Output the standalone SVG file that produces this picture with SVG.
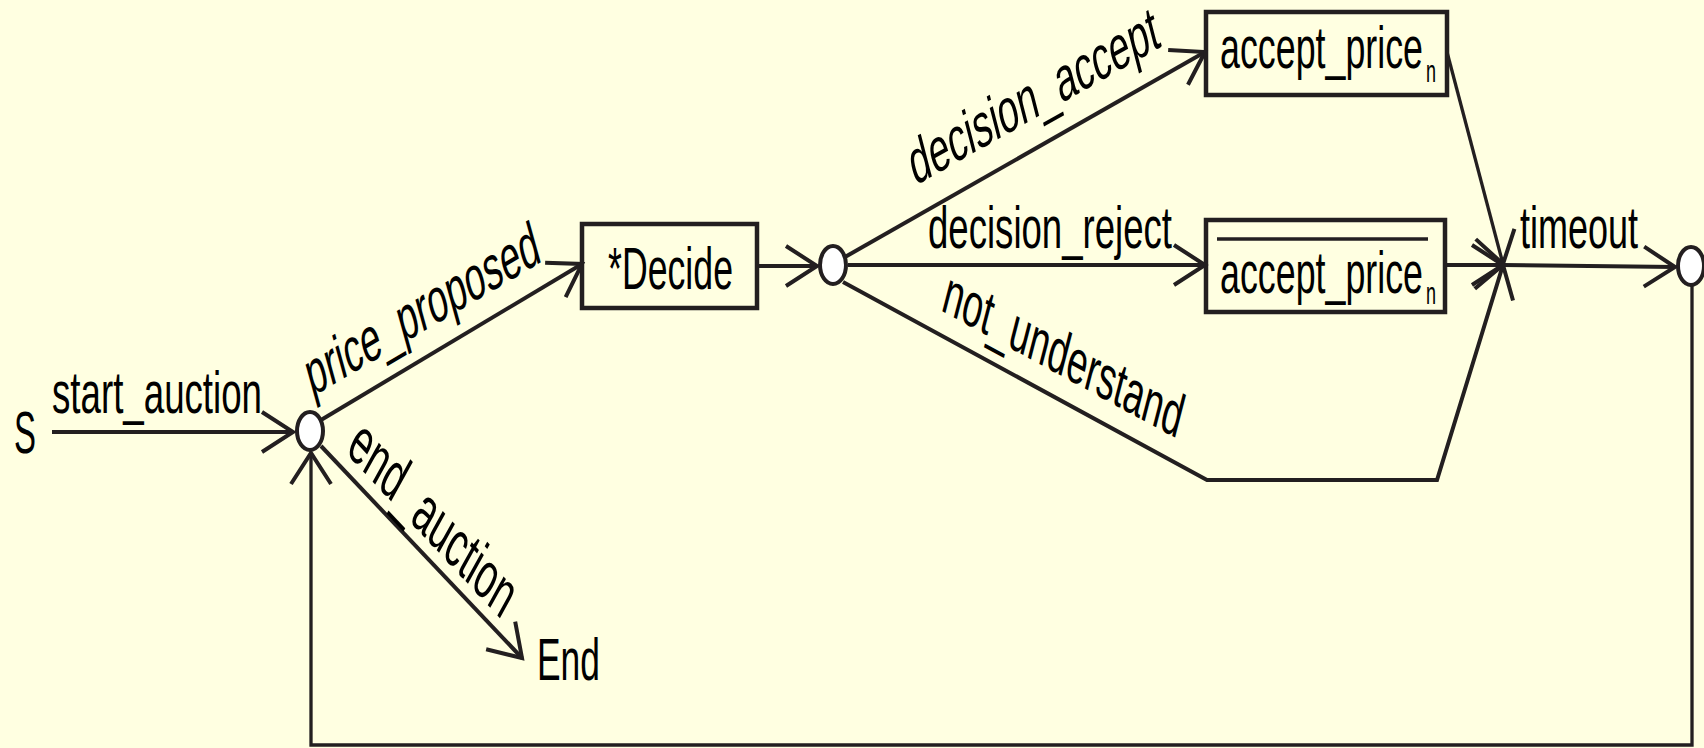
<svg xmlns="http://www.w3.org/2000/svg" width="1704" height="748" viewBox="0 0 1704 748">
<defs>
<style>
.t{font-family:"Liberation Sans",Arial,sans-serif;font-size:59px;fill:#000}
.sub{font-family:"Liberation Sans",Arial,sans-serif;font-size:31px;fill:#000}
.ln{fill:none;stroke:#231f20;stroke-width:4;stroke-linejoin:miter}
.thin{fill:none;stroke:#231f20;stroke-width:3.3}
.box{fill:none;stroke:#231f20;stroke-width:4.5}
.st{fill:#fff;stroke:#231f20;stroke-width:4}
</style>
<marker id="arr" markerUnits="userSpaceOnUse" markerWidth="60" markerHeight="60" viewBox="-40 -30 50 60" refX="0" refY="0" orient="auto" overflow="visible">
<path d="M-31,-20 L0,0 L-31,20" fill="none" stroke="#231f20" stroke-width="4"/>
</marker>
</defs>
<rect x="0" y="0" width="1704" height="748" fill="#ffffe1"/>
<g id="connectors">
<line class="ln" x1="52" y1="432" x2="293" y2="432" marker-end="url(#arr)"/>
<line class="ln" x1="321" y1="420" x2="582" y2="264" marker-end="url(#arr)"/>
<line class="ln" x1="321" y1="446" x2="522" y2="658" marker-end="url(#arr)"/>
<line class="ln" x1="757" y1="266" x2="817" y2="266" marker-end="url(#arr)"/>
<line class="ln" x1="845" y1="257" x2="1205" y2="52" marker-end="url(#arr)"/>
<line class="ln" x1="848" y1="265" x2="1205" y2="265" marker-end="url(#arr)"/>
<polyline class="ln" points="843,282 1207,480 1437,480 1503,265" marker-end="url(#arr)"/>
<line class="thin" x1="1447" y1="52" x2="1503" y2="264" marker-end="url(#arr)"/>
<line class="ln" x1="1445" y1="265" x2="1503" y2="265" marker-end="url(#arr)"/>
<line class="ln" x1="1503" y1="265" x2="1675" y2="267" marker-end="url(#arr)"/>
<polyline class="thin" points="1692,285 1692,745 311,745 311,453" marker-end="url(#arr)"/>
</g>
<g id="labels">
<text class="t" x="52" y="413" textLength="210" lengthAdjust="spacingAndGlyphs">start_auction</text>
<text class="t" transform="translate(312,397) rotate(-30.5) skewX(-15)" textLength="268" lengthAdjust="spacingAndGlyphs">price_proposed</text>
<text class="t" transform="translate(345,452) rotate(47) skewX(18)" textLength="230" lengthAdjust="spacingAndGlyphs">end_auction</text>
<text class="t" transform="translate(915,186) rotate(-29.5) skewX(-15)" textLength="284" lengthAdjust="spacingAndGlyphs">decision_accept</text>
<text class="t" x="928" y="248" textLength="244" lengthAdjust="spacingAndGlyphs">decision_reject</text>
<text class="t" transform="translate(940,310) rotate(28.5) skewX(14)" textLength="270" lengthAdjust="spacingAndGlyphs">not_understand</text>
<text class="t" x="1520" y="248" textLength="118" lengthAdjust="spacingAndGlyphs">timeout</text>
</g>
<g id="S"><text class="t" x="14" y="453" textLength="22" lengthAdjust="spacingAndGlyphs">S</text></g>
<g id="s1"><ellipse class="st" cx="310" cy="431" rx="13" ry="19"/></g>
<g id="decide"><rect class="box" x="582" y="224" width="175" height="84"/><text class="t" x="608" y="289" textLength="125" lengthAdjust="spacingAndGlyphs">*Decide</text></g>
<g id="s2"><ellipse class="st" cx="833" cy="265" rx="13" ry="19"/></g>
<g id="accept"><rect class="box" x="1206" y="12" width="241" height="83"/><text class="t" x="1220" y="68" textLength="203" lengthAdjust="spacingAndGlyphs">accept_price</text><text class="sub" x="1426" y="82" textLength="10" lengthAdjust="spacingAndGlyphs">n</text></g>
<g id="reject"><rect class="box" x="1206" y="220" width="239" height="92"/><line class="thin" x1="1217" y1="239" x2="1428" y2="239"/><text class="t" x="1220" y="293" textLength="203" lengthAdjust="spacingAndGlyphs">accept_price</text><text class="sub" x="1426" y="304" textLength="10" lengthAdjust="spacingAndGlyphs">n</text></g>
<g id="s3"><ellipse class="st" cx="1691" cy="266" rx="13" ry="19"/></g>
<g id="end"><text class="t" x="537" y="680" textLength="63" lengthAdjust="spacingAndGlyphs">End</text></g>
</svg>
